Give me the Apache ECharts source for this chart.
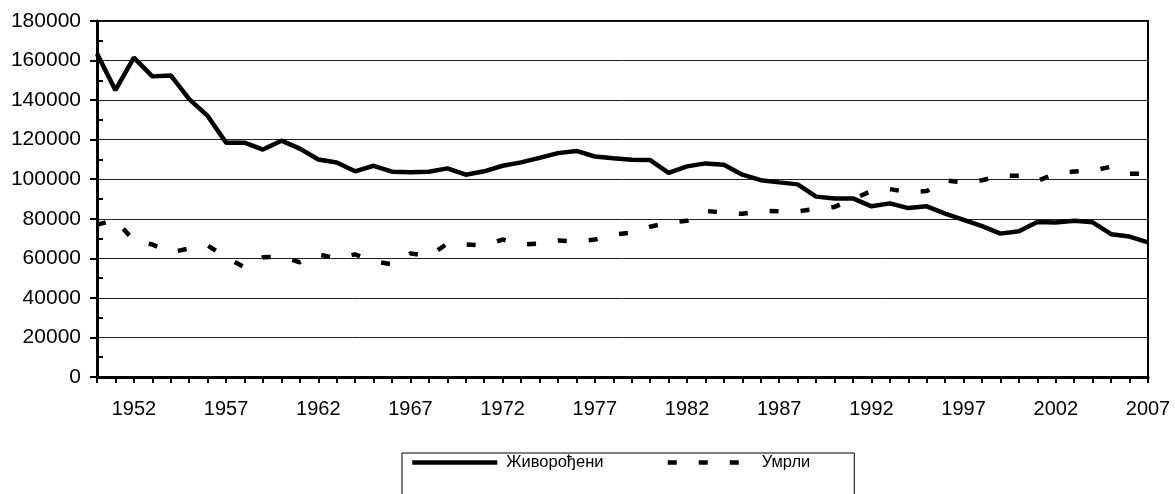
<!DOCTYPE html>
<html>
<head>
<meta charset="utf-8">
<script src="https://cdn.jsdelivr.net/npm/echarts@6/dist/echarts.min.js"></script>
<style>
html,body{margin:0;padding:0;background:#fff;}
#chart{width:1175px;height:494px;}
</style>
</head>
<body>
<div id="chart"></div>
<script>
const years = [];
for (let y = 1950; y <= 2007; y++) years.push(String(y));

const births = [163500,145000,161500,152000,152500,140500,132000,118500,118500,115000,
119500,115500,110000,108500,104000,106800,103800,103500,103800,105500,
102300,104000,106800,108500,110800,113200,114300,111500,110600,109900,
109700,103200,106500,108000,107300,102300,99500,98400,97400,91200,
90300,90300,86300,87800,85400,86300,82600,79500,76300,72500,
73700,78400,78100,79000,78200,72200,71000,68100];

const deaths = [77000,79500,69000,67000,63000,65000,66500,60500,55500,60500,
61000,58000,62000,60000,62000,58500,57000,62500,61000,67500,
67000,66500,69500,67000,67500,69000,68500,69500,72000,73000,
76000,78000,79000,84000,83000,82500,84000,83800,83700,85000,
86000,90000,94000,95000,93400,94000,99500,98300,99500,101800,
101800,99200,102800,103900,104300,106300,102800,102800];

const seriesNames = ['Живорођени', 'Умрли'];
const yTicks = [0, 20000, 40000, 60000, 80000, 100000, 120000, 140000, 160000, 180000];

const font = '"Liberation Sans", Arial, sans-serif';
const chart = echarts.init(document.getElementById('chart'), null, {renderer: 'canvas'});
chart.setOption({
  animation: false,
  backgroundColor: '#fff',
  grid: {left: 97, right: 27, top: 21, bottom: 117, show: true, borderColor: '#000', borderWidth: 2, containLabel: false},
  legend: {
    data: seriesNames,
    left: 402, top: 453,
    orient: 'horizontal',
    itemWidth: 85, itemHeight: 14, itemGap: 62,
    padding: [1, 44, 40, 8],
    borderColor: '#000', borderWidth: 1,
    itemStyle: {opacity: 0, color: 'rgba(0,0,0,0)', borderWidth: 0},
    lineStyle: {width: 4.5, color: '#000'},
    textStyle: {fontFamily: font, fontSize: 16.5, color: '#000', padding: [0, 0, 0, 4]}
  },
  xAxis: {
    type: 'category',
    data: years,
    boundaryGap: false,
    axisLine: {lineStyle: {color: '#000', width: 3}},
    axisTick: {show: true, interval: 0, length: 6, lineStyle: {color: '#000', width: 2}},
    axisLabel: {
      interval: function (idx, val) { return (Number(val) - 1952) % 5 === 0; },
      fontFamily: font, fontSize: 20, color: '#000', margin: 22
    },
    splitLine: {show: false}
  },
  yAxis: {
    type: 'value',
    min: yTicks[0], max: yTicks[yTicks.length - 1], interval: 20000,
    axisLine: {show: true, lineStyle: {color: '#000', width: 3}},
    axisTick: {show: true, length: 7, lineStyle: {color: '#000', width: 2}},
    minorTick: {show: true, splitNumber: 2, length: -6, lineStyle: {color: '#000', width: 2}},
    axisLabel: {fontFamily: font, fontSize: 21, color: '#000', margin: 16,
      formatter: function (v) { return String(v); }},
    splitLine: {show: true, lineStyle: {color: '#222', width: 1}}
  },
  series: [
    {
      name: seriesNames[0], type: 'line', data: births, symbol: 'none',
      lineStyle: {color: '#000', width: 4.5, type: 'solid'},
      itemStyle: {color: '#000'}
    },
    {
      name: seriesNames[1], type: 'line', data: deaths, symbol: 'none',
      lineStyle: {color: '#000', width: 4.5, type: [9, 22]},
      itemStyle: {color: '#000'}
    }
  ]
});
</script>
</body>
</html>
